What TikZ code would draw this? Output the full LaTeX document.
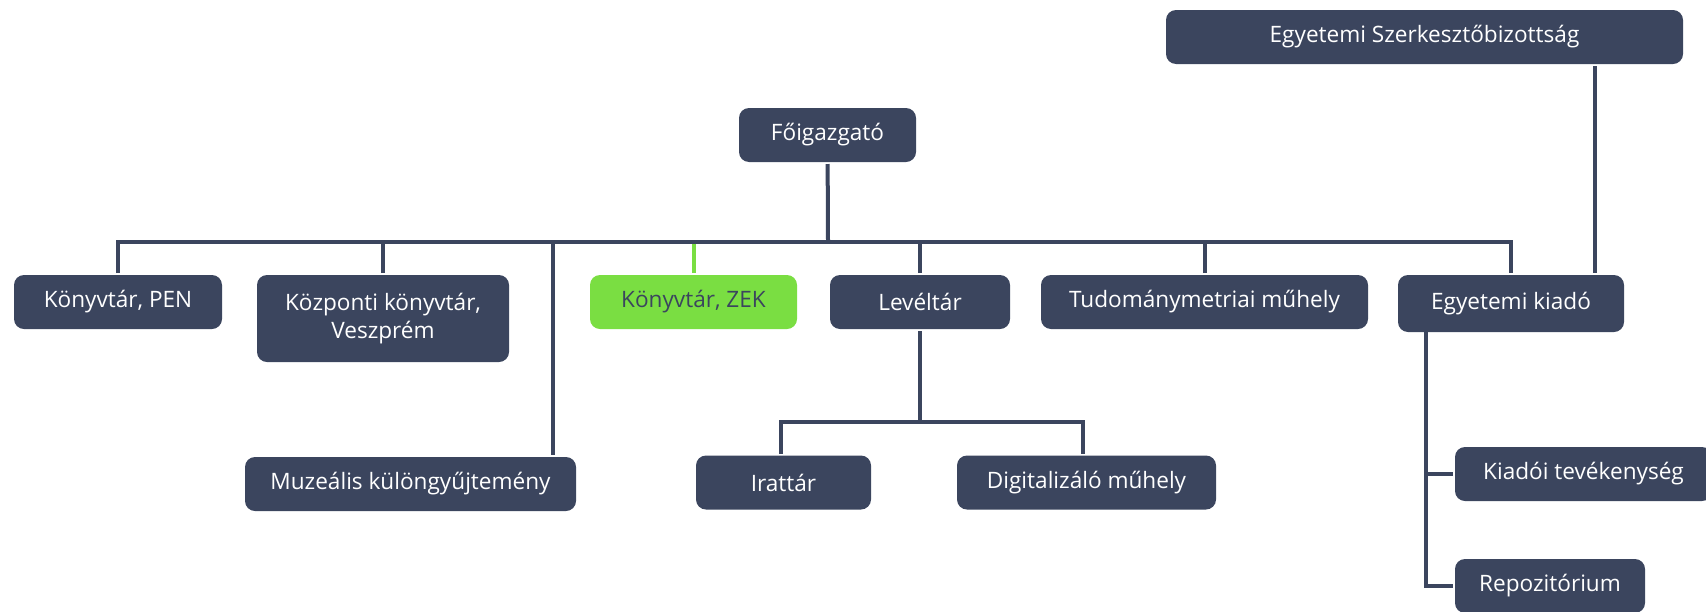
\documentclass[tikz,border=0pt]{standalone}
\usepackage{fontspec}
\setmainfont{Open Sans}
\usepackage{tikz}
\usetikzlibrary{positioning}
\definecolor{boxblue}{RGB}{59,69,94}
\definecolor{zekgreen}{RGB}{122,222,66}

\begin{document}
\begin{tikzpicture}[x=0.5pt, y=-0.5pt, line width=2pt, draw=boxblue,
unit/.style = {rectangle, rounded corners=5pt, fill=boxblue, text=white, inner sep=0pt, minimum height=27pt},
greenunit/.style = {unit, fill=zekgreen, text=boxblue}]
\tikzstyle{every node}=[font=\fontsize{11.3}{13.6}\selectfont]
\useasboundingbox (0,0) rectangle (1706,611);
\node[unit, minimum width=258.5pt] (1) at (1424.5,37) {Egyetemi Szerkesztőbizottság};
\node[unit, minimum width=88.5pt] (2) at (827.5,135) {Főigazgató};
\node[unit, minimum width=104pt] (3) at (118,302) {Könyvtár, PEN};
\node[unit, minimum width=126pt, minimum height=43.5pt, align=center] (4) at (383,318.5) {Központi könyvtár,\\Veszprém};
\node[unit, minimum width=165.5pt] (5) at (410.5,484) {Muzeális különgyűjtemény};
\node[greenunit, minimum width=103.5pt] (6) at (693.5,302) {Könyvtár, ZEK};
\node[unit, minimum width=90pt] (7) at (920,302) {Levéltár};
\node[unit, minimum width=87.5pt] (8) at (783.5,482.5) {Irattár};
\node[unit, minimum width=129.5pt] (9) at (1086.5,482.5) {Digitalizáló műhely};
\node[unit, minimum width=163.5pt] (10) at (1204.5,302) {Tudománymetriai műhely};
\node[unit, minimum width=113pt, minimum height=28.5pt] (11) at (1511,303.5) {Egyetemi kiadó};
\node[unit, minimum width=128.5pt] (12) at (1583.5,474) {Kiadói tevékenység};
\node[unit, minimum width=95pt] (13) at (1550,586) {Repozitórium};
\coordinate (b) at (828,242);
\coordinate (m) at (553,242);
\coordinate (l) at (920,422);
\coordinate (la) at (781,422);
\coordinate (lb) at (1083,422);
\coordinate (k) at (1426,331);
\coordinate (s) at (1595,0);
\draw[zekgreen] (6) -- (6 |- b);
\draw (3) |- (b) -| (11);
\draw (2) -- (b);
\draw (4) -- (4 |- b);
\draw (m) -- (m |- 5.north);
\draw (7) -- (7 |- b);
\draw (10) -- (10 |- b);
\draw (7) -- (l);
\draw (la |- 8.north) |- (lb) -- (lb |- 9.north);
\draw (1.south -| s) -- (11.north -| s);
\draw (k) |- (13);
\draw (k |- 12) -- (12);
\end{tikzpicture}
\end{document}
